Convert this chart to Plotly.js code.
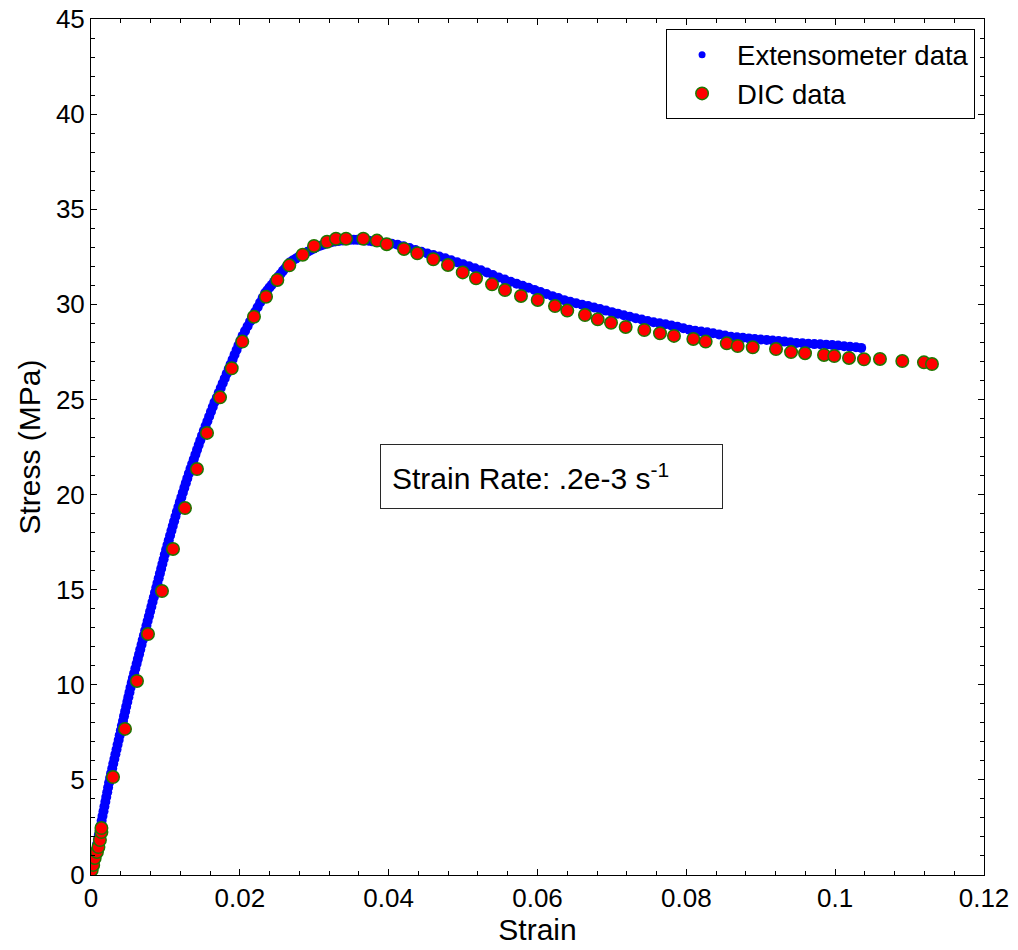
<!DOCTYPE html>
<html>
<head>
<meta charset="utf-8">
<script src="https://cdn.plot.ly/plotly-3.0.1.min.js"></script>
<style>html,body{margin:0;padding:0;background:#fff;}#chart{width:1018px;height:950px;}</style>
</head>
<body>
<div id="chart"></div>
<script>
// Extensometer data
const extStrain = [
0.00005,0.00018,0.0003,0.00043,0.00055,0.00068,0.0008,0.00093,0.00105,0.00118,0.0013,0.00143,0.00155,0.00168,0.0018,0.00193,0.00205,0.00218,0.0023,0.00243,
0.00256,0.0027,0.00285,0.00299,0.00314,0.00328,0.00343,0.00357,0.00372,0.00386,0.00401,0.00415,0.0043,0.00444,0.00459,0.00473,0.00488,0.00502,0.00517,0.00531,
0.00547,0.00563,0.0058,0.00596,0.00613,0.00629,0.00646,0.00662,0.00679,0.00695,0.00712,0.00728,0.00745,0.00761,0.00778,0.00794,0.00811,0.00827,0.00844,0.0086,
0.00877,0.00893,0.0091,0.00926,0.00943,0.00959,0.00976,0.00992,0.01009,0.01027,0.01045,0.01063,0.01081,0.01099,0.01117,0.01135,0.01154,0.01174,0.01194,0.01214,
0.01234,0.01254,0.01274,0.01294,0.01315,0.01337,0.01359,0.01381,0.01403,0.01425,0.01447,0.01469,0.01492,0.01516,0.0154,0.01564,0.01588,0.01612,0.01636,0.0166,
0.01691,0.01717,0.01744,0.0177,0.01797,0.01823,0.0185,0.01876,0.01903,0.01929,0.01956,0.01982,0.02009,
0.02037,0.0207,0.02104,0.02138,0.02172,0.02205,0.02239,0.02273,0.02307,0.0234,
0.0237,0.024,0.0243,0.0246,0.0249,0.0252,0.0255,0.0258,0.0261,0.0264,0.0267,
0.0271,0.0275,0.0279,0.0283,0.0287,0.0291,0.0295,0.0299,0.0303,
0.0308,0.0313,0.0318,0.0323,0.0328,0.0333,0.0338,0.0343,0.0348,0.0353,0.0358,0.0363,0.0368,0.0373,0.0378,0.0383,
0.0388,0.0396,0.0404,0.0412,0.042,0.0428,0.0436,0.0444,0.0452,0.046,0.0468,0.0476,0.0484,0.0492,0.05,0.0508,0.0516,0.0524,0.0532,0.054,
0.0548,0.0556,0.0564,0.0572,0.058,0.0588,0.0596,0.0604,0.0612,0.062,0.0628,0.0636,0.0644,0.0652,0.066,0.0668,0.0676,0.0684,0.0692,0.07,
0.0708,0.0716,0.0724,0.0732,0.074,0.0748,0.0756,0.0764,0.0772,0.078,0.0788,0.0796,0.0804,0.0812,0.082,0.0828,0.0836,0.0844,0.0852,0.086,
0.0868,0.0876,0.0884,0.0892,0.09,0.0908,0.0916,0.0924,0.0932,0.094,0.0948,0.0956,0.0964,0.0972,0.098,0.0988,0.0996,0.1004,0.1012,0.102,0.1028,0.1035
];
const extStress = [
0.1,0.35,0.6,0.85,1.1,1.35,1.6,1.85,2.1,2.35,2.6,2.85,3.1,3.35,3.6,3.85,4.1,4.35,4.6,4.85,
5.1,5.35,5.6,5.85,6.1,6.35,6.6,6.85,7.1,7.35,7.6,7.85,8.1,8.35,8.6,8.85,9.1,9.35,9.6,9.85,
10.1,10.35,10.6,10.85,11.1,11.35,11.6,11.85,12.1,12.35,12.6,12.85,13.1,13.35,13.6,13.85,14.1,14.35,14.6,14.85,
15.1,15.35,15.6,15.85,16.1,16.35,16.6,16.85,17.1,17.35,17.6,17.85,18.1,18.35,18.6,18.85,19.1,19.35,19.6,19.85,
20.1,20.35,20.6,20.85,21.1,21.35,21.6,21.85,22.1,22.35,22.6,22.85,23.1,23.35,23.6,23.85,24.1,24.35,24.6,24.85,
25.1,25.35,25.6,25.85,26.1,26.35,26.6,26.85,27.1,27.35,27.6,27.85,28.1,
28.35,28.6,28.85,29.1,29.35,29.6,29.85,30.1,30.35,30.6,
30.74,30.89,31.03,31.18,31.32,31.47,31.61,31.76,31.9,32.05,32.2,
32.3,32.4,32.5,32.59,32.67,32.76,32.84,32.92,33.0,
33.08,33.15,33.21,33.26,33.3,33.33,33.36,33.38,33.39,33.4,33.39,33.38,33.36,33.34,33.31,33.29,
33.28,33.24,33.19,33.13,33.05,32.96,32.86,32.76,32.67,32.59,32.51,32.42,32.32,32.21,32.11,32.0,31.9,31.79,31.67,31.54,
31.41,31.3,31.19,31.08,30.98,30.87,30.76,30.65,30.54,30.43,30.33,30.22,30.14,30.06,29.98,29.91,29.83,29.75,29.67,29.59,
29.51,29.43,29.35,29.27,29.2,29.12,29.06,29.0,28.95,28.89,28.82,28.74,28.66,28.61,28.57,28.53,28.48,28.42,28.36,28.3,
28.27,28.24,28.21,28.18,28.15,28.13,28.1,28.07,28.04,28.01,27.97,27.95,27.93,27.91,27.9,27.88,27.86,27.83,27.8,27.77,27.74,27.71
];
// DIC data
const dicStrain = [
0.0001,0.0003,0.0005,0.0008,0.001,0.0012,0.0014,0.0014,
0.00296,0.00457,0.00618,0.00766,0.00954,0.01102,0.01263,0.01424,0.01559,0.01734,0.01891,0.02033,
0.0219,0.02352,0.02504,0.02665,0.02845,0.02997,0.03172,0.03292,0.03427,0.03659,0.03843,0.03974,
0.04206,0.04385,0.046,0.04797,0.04995,0.05174,0.05389,0.05563,0.05778,0.06003,0.06235,0.064,
0.06638,0.06809,0.06988,0.07185,0.07435,0.07646,0.07834,0.08094,0.0826,0.08543,0.0869,0.08892,
0.09205,0.09407,0.09595,0.0985,0.09988,0.10186,0.10387,0.10602,0.10902,0.11193,0.11301
];
const dicStress = [
0.26,0.53,0.89,1.21,1.47,1.84,2.26,2.47,
5.15,7.68,10.2,12.67,14.93,17.14,19.29,21.34,23.24,25.11,26.64,28.04,
29.35,30.4,31.28,32.05,32.61,33.07,33.29,33.45,33.45,33.45,33.35,33.16,
32.91,32.68,32.37,32.07,31.68,31.37,31.05,30.75,30.44,30.23,29.91,29.67,
29.44,29.21,29.03,28.81,28.65,28.48,28.34,28.18,28.04,27.95,27.81,27.74,
27.65,27.49,27.43,27.34,27.28,27.18,27.11,27.13,27.02,26.95,26.86
];
const xTicks = [0, 0.02, 0.04, 0.06, 0.08, 0.1, 0.12];
const yTicks = [0, 5, 10, 15, 20, 25, 30, 35, 40, 45];
const seriesNames = ['Extensometer data', 'DIC data'];
const xLabel = 'Strain';
const yLabel = 'Stress (MPa)';
const noteText = 'Strain Rate: .2e-3 s<sup>-1</sup>';

const FONT = 'Liberation Sans, Arial, Helvetica, sans-serif';

const traces = [
  {x: extStrain, y: extStress, name: seriesNames[0], type: 'scatter', mode: 'markers',
   showlegend: false, marker: {color: 'rgb(0,0,255)', size: 10, line: {width: 0}}},
  {x: dicStrain, y: dicStress, name: seriesNames[1], type: 'scatter', mode: 'markers',
   showlegend: false, marker: {color: 'rgb(255,0,0)', size: 12.5, line: {color: 'rgb(30,120,0)', width: 1.5}}},
  // legend entries (no data drawn)
  {x: [null], y: [null], name: seriesNames[0], type: 'scatter', mode: 'markers',
   marker: {color: 'rgb(0,0,255)', size: 7, line: {width: 0}}},
  {x: [null], y: [null], name: seriesNames[1], type: 'scatter', mode: 'markers',
   marker: {color: 'rgb(255,0,0)', size: 12.5, line: {color: 'rgb(30,120,0)', width: 1.5}}}
];

const axisCommon = {
  showgrid: false, zeroline: false, showline: true, linecolor: '#000', linewidth: 1,
  mirror: 'allticks', ticks: 'inside', ticklen: 6, tickwidth: 1, tickcolor: '#000',
  tickfont: {family: FONT, size: 26, color: '#000'}
};

const layout = {
  width: 1018, height: 950,
  margin: {l: 91, r: 34, t: 19, b: 75},
  paper_bgcolor: '#fff', plot_bgcolor: '#fff',
  showlegend: true,
  xaxis: Object.assign({}, axisCommon, {
    range: [0, 0.12], tickvals: xTicks, ticktext: xTicks.map(String),
    minor: {dtick: 0.004, ticks: 'inside', ticklen: 4, tickcolor: '#000', showgrid: false},
    title: {text: xLabel, font: {family: FONT, size: 30, color: '#000'}, standoff: 0}
  }),
  yaxis: Object.assign({}, axisCommon, {
    range: [0, 45], tickvals: yTicks, ticktext: yTicks.map(String),
    minor: {dtick: 1, ticks: 'inside', ticklen: 4, tickcolor: '#000', showgrid: false},
    title: {text: yLabel, font: {family: FONT, size: 30, color: '#000'}, standoff: 6}
  }),
  legend: {
    x: 0.99, y: 0.988, xanchor: 'right', yanchor: 'top',
    bgcolor: '#fff', bordercolor: '#000', borderwidth: 1,
    font: {family: FONT, size: 27.5, color: '#000'}, itemwidth: 60
  },
  annotations: [{
    xref: 'x', yref: 'y', x: 0.06188, y: 20.95, xanchor: 'center', yanchor: 'middle',
    text: noteText, showarrow: false, align: 'left',
    width: 319, height: 41, borderpad: 11,
    bordercolor: 'rgb(40,40,40)', borderwidth: 1, bgcolor: '#fff',
    font: {family: FONT, size: 30, color: '#000'}
  }]
};

Plotly.newPlot('chart', traces, layout, {staticPlot: true, displayModeBar: false});
</script>
</body>
</html>
